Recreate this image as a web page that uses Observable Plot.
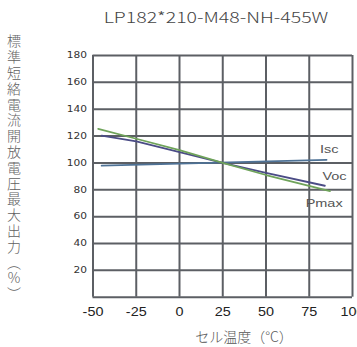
<!DOCTYPE html>
<html><head><meta charset="utf-8">
<script src="https://cdn.jsdelivr.net/npm/d3@7"></script>
<script src="https://cdn.jsdelivr.net/npm/@observablehq/plot@0.6"></script>
<style>
html,body{margin:0;padding:0;background:#fff;overflow:hidden;width:357px;height:347px;}
#wrap{position:relative;width:357px;height:347px;overflow:hidden;}
#chart{position:absolute;left:0;top:0;}
#chart svg{max-width:none !important;width:370px !important;height:347px !important;}
#title{position:absolute;left:0;top:6px;width:432px;text-align:center;font-family:"Noto Sans CJK JP","Noto Sans",sans-serif;font-size:15px;color:#444;font-weight:300;transform:scaleX(1.3);transform-origin:216px 0;}
#ylab{position:absolute;left:4px;top:34px;writing-mode:vertical-rl;text-orientation:upright;font-family:"Noto Sans CJK JP",sans-serif;font-size:14px;letter-spacing:1.8px;color:#5f5f5f;font-weight:300;}
#xlab{position:absolute;left:0;top:326px;width:488px;text-align:center;font-family:"Noto Sans CJK JP",sans-serif;font-size:14px;color:#555;font-weight:300;}
</style></head>
<body><div id="wrap"><div id="chart"></div><div id="title"></div><div id="ylab"></div><div id="xlab"></div></div>
<script>
const title = "LP182*210-M48-NH-455W";
const yTitle = "標準短絡電流開放電圧最大出力（%）";
const xTitle = "セル温度（°C）";
const xTicks = [-50, -25, 0, 25, 50, 75, 100];
const yTicks = [0, 20, 40, 60, 80, 100, 120, 140, 160, 180];
const yTickLabels = [20, 40, 60, 80, 100, 120, 140, 160, 180];
const seriesNames = ["Isc", "Voc", "Pmax"];
const seriesColors = ["#4e7296", "#4b4c86", "#6fa35a"];
const iscT = [-45, 85];
const iscV = [98, 102.3];
const vocT = [-45, -25, 0, 25, 50, 84];
const vocV = [120.3, 116, 108, 100, 92.5, 83];
const pmaxT = [-47, -25, 0, 25, 50, 87];
const pmaxV = [125.4, 118, 109.5, 100, 91, 79];
const labelT = [86.5, 89.6, 83.6];
const labelV = [110, 90, 69.8];

const rows = [];
[[iscT, iscV], [vocT, vocV], [pmaxT, pmaxV]].forEach(([t, v], i) => {
  t.forEach((x, j) => rows.push({series: seriesNames[i], t: x, v: v[j]}));
});
const labels = seriesNames.map((s, i) => ({series: s, t: labelT[i], v: labelV[i]}));

const gridColor = "#5c5f64";
const chart = Plot.plot({
  width: 370, height: 347,
  marginLeft: 92.5, marginRight: 18, marginTop: 55, marginBottom: 50.3,
  style: {fontFamily: "'Liberation Sans', Arial, sans-serif", background: "transparent", maxWidth: "none"},
  x: {domain: [-50, 100]},
  y: {domain: [0, 180]},
  color: {domain: seriesNames, range: seriesColors},
  marks: [
    Plot.ruleX(xTicks, {stroke: gridColor, strokeWidth: 2}),
    Plot.ruleY(yTicks, {stroke: gridColor, strokeWidth: 2}),
    Plot.axisY(yTickLabels, {tickSize: 0, tickPadding: 6, fontSize: 8.5, fill: "#333", fontFamily: "'DejaVu Sans', sans-serif", label: null, className: "ylbl"}),
    Plot.axisX(xTicks, {tickSize: 0, tickPadding: 10, fontSize: 12, fill: "#222", label: null, className: "xlbl", tickFormat: d => String(d)}),
    Plot.line(rows, {x: "t", y: "v", z: "series", stroke: "series", strokeWidth: 1.8}),
    Plot.text(labels, {x: "t", y: "v", text: "series", fill: "#555", fontSize: 10, className: "slbl"})
  ]
});
document.getElementById("chart").appendChild(chart);
document.getElementById("title").textContent = title;
document.getElementById("ylab").textContent = yTitle;
document.getElementById("xlab").textContent = xTitle;

// widen glyphs horizontally to match the reference's stretched lettering
function widen(cls, k) {
  chart.querySelectorAll("." + cls + " text").forEach(t => {
    const tr = t.getAttribute("transform");
    if (tr) {
      t.setAttribute("transform", tr + ` scale(${k},1)`);
    } else {
      const x = +t.getAttribute("x") || 0, y = +t.getAttribute("y") || 0;
      t.setAttribute("transform", `translate(${x},${y}) scale(${k},1)`);
      t.setAttribute("x", 0); t.setAttribute("y", 0);
    }
  });
}
widen("ylbl", 1.25);
widen("xlbl", 1.2);
widen("slbl", 1.45);
</script>
</body></html>
